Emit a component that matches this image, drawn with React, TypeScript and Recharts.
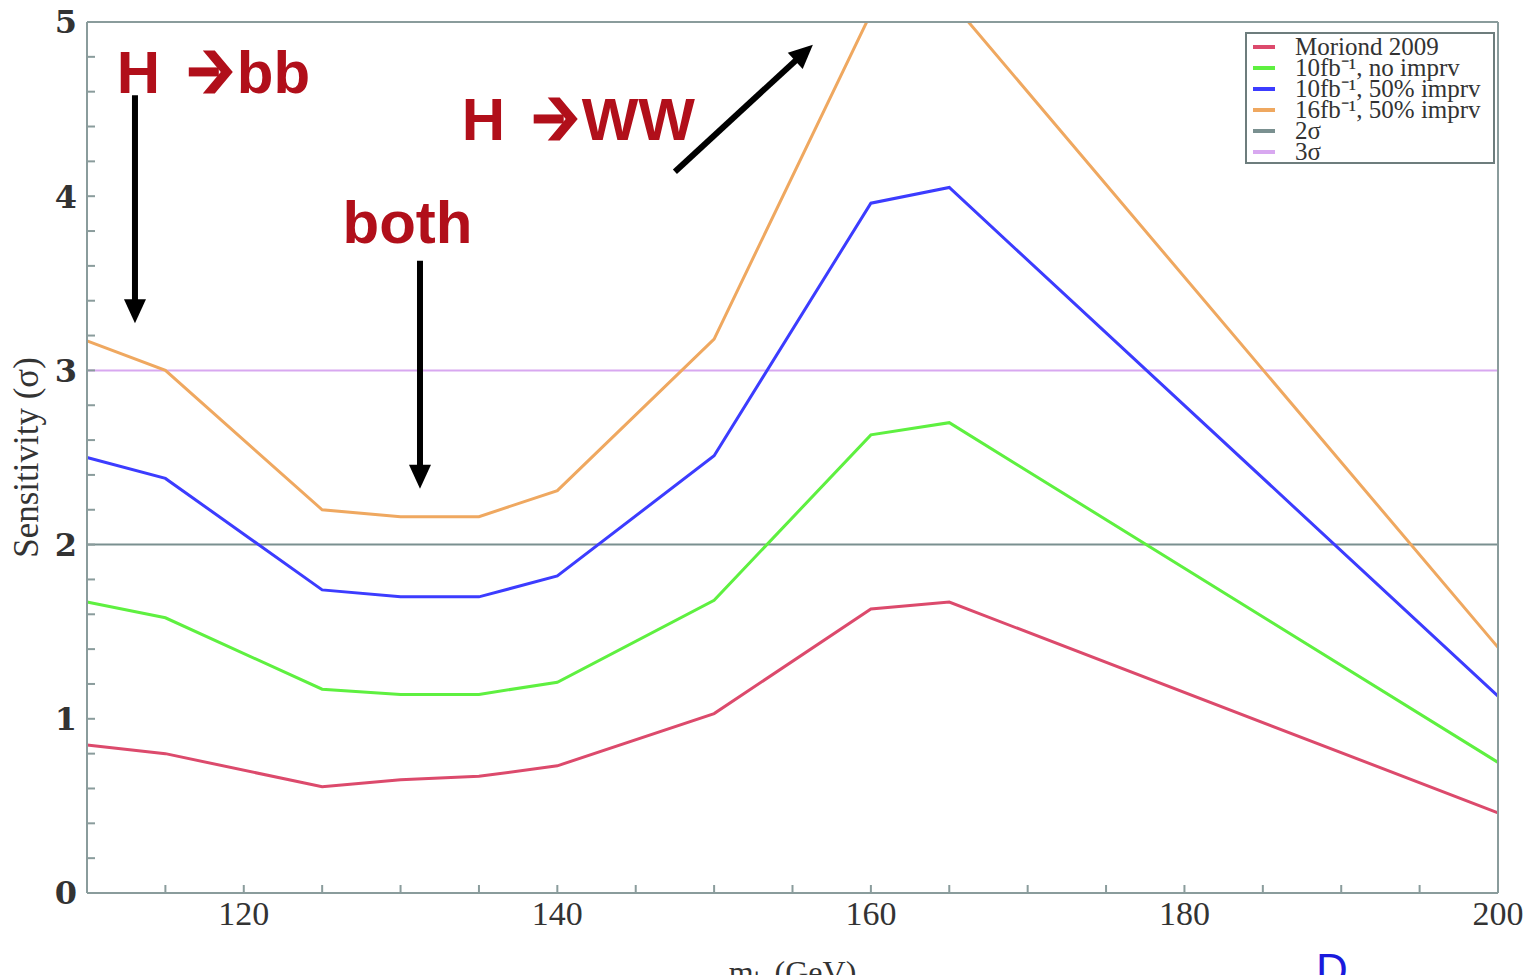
import { LineChart, Line, XAxis, YAxis, ReferenceLine, ReferenceDot } from "recharts"

const masses = [110, 115, 125, 130, 135, 140, 150, 160, 165, 200]
const moriond = [0.85, 0.8, 0.61, 0.65, 0.67, 0.73, 1.03, 1.63, 1.67, 0.46]
const noImprv = [1.67, 1.58, 1.17, 1.14, 1.14, 1.21, 1.68, 2.63, 2.7, 0.75]
const imprv10 = [2.5, 2.38, 1.74, 1.7, 1.7, 1.82, 2.51, 3.96, 4.05, 1.13]
const imprv16 = [3.17, 3.0, 2.2, 2.16, 2.16, 2.31, 3.18, 5.05, 5.13, 1.41]

const xTicks = [110, 115, 120, 125, 130, 135, 140, 145, 150, 155, 160, 165, 170, 175, 180, 185, 190, 195, 200]
const yTicks = Array.from({ length: 26 }, (_, i) => Math.round(i * 2) / 10)

const legendItems = [
  { label: "Moriond 2009", color: "#dc4a6c" },
  { label: "10fb\u207B\u00B9, no imprv", color: "#5ef040" },
  { label: "10fb\u207B\u00B9, 50% imprv", color: "#3c3cff" },
  { label: "16fb\u207B\u00B9, 50% imprv", color: "#efa860" },
  { label: "2\u03C3", color: "#7a9090" },
  { label: "3\u03C3", color: "#d8a8f0" },
]

const data = masses.map((m, i) => ({
  m,
  moriond: moriond[i],
  noImprv: noImprv[i],
  imprv10: imprv10[i],
  imprv16: imprv16[i],
}))

const frame = "#8a9c9c"
const annotRed = "#b10f1a"

function Arrow(props: any) {
  const { x1, y1, x2, y2 } = props
  const dx = x2 - x1
  const dy = y2 - y1
  const len = Math.sqrt(dx * dx + dy * dy)
  const ux = dx / len
  const uy = dy / len
  const head = 24
  const w = 11
  const bx = x2 - ux * head
  const by = y2 - uy * head
  const pts = `${x2},${y2} ${bx - uy * w},${by + ux * w} ${bx + uy * w},${by - ux * w}`
  return (
    <g>
      <line x1={x1} y1={y1} x2={bx + ux * 4} y2={by + uy * 4} stroke="#000" strokeWidth={6} />
      <polygon points={pts} fill="#000" />
    </g>
  )
}

// chevron-style arrow like the slide's wingdings glyph
function Chevron({ x, y }: { x: number; y: number }) {
  return (
    <g transform={`translate(${x},${y})`} fill={annotRed}>
      <rect x={0} y={-26} width={30} height={9} />
      <polygon points="14,-43 26,-43 44,-21.5 26,0 14,0 32,-21.5" />
    </g>
  )
}

function label(text: string, arrow: boolean) {
  return (p: any) => {
    const style = {
      fill: annotRed,
      fontFamily: "Liberation Sans, Arial, sans-serif",
      fontWeight: "bold" as const,
      fontSize: 60,
    }
    if (!arrow) {
      return (
        <text x={p.cx} y={p.cy} {...style}>
          {text}
        </text>
      )
    }
    return (
      <g>
        <text x={p.cx} y={p.cy} {...style}>
          H
        </text>
        <Chevron x={p.cx + 72} y={p.cy} />
        <text x={p.cx + 120} y={p.cy} {...style}>
          {text}
        </text>
      </g>
    )
  }
}

function CustomLegend() {
  return (
    <div
      style={{
        position: "absolute",
        left: 1245,
        top: 32,
        width: 250,
        height: 132,
        border: "2px solid #6d7d7d",
        background: "#fff",
        overflow: "hidden",
        boxSizing: "border-box",
        fontFamily: "Liberation Serif, Times New Roman, serif",
        fontSize: 25,
        lineHeight: "21px",
        paddingTop: 2,
        color: "#333",
      }}
    >
      {legendItems.map((it) => (
        <div key={it.label} style={{ display: "flex", alignItems: "center", whiteSpace: "nowrap" }}>
          <span style={{ display: "inline-block", width: 22, height: 4, background: it.color, margin: "0 20px 0 6px" }} />
          <span>{it.label}</span>
        </div>
      ))}
    </div>
  )
}

export default function App() {
  return (
    <div style={{ position: "absolute", left: 0, top: 0, width: 1532, height: 975, overflow: "hidden", background: "#fff" }}>
      <LineChart width={1532} height={975} data={data} margin={{ top: 0, right: 0, bottom: 0, left: 0 }}>
        <XAxis
          dataKey="m"
          type="number"
          domain={[110, 200]}
          ticks={xTicks}
          interval={0}
          height={82}
          stroke={frame}
          strokeWidth={2}
          tickSize={-8}
          tickMargin={16}
          tickFormatter={(v: number) => (v % 20 === 0 ? String(v) : "")}
          tick={{ fill: "#333", fontSize: 34, fontFamily: "Liberation Serif, serif" }}
          label={{ value: "m\u2095 (GeV)", position: "insideBottom", offset: -8, fill: "#333", fontSize: 32, fontFamily: "Liberation Serif, serif" }}
        />
        <XAxis
          xAxisId="top"
          dataKey="m"
          type="number"
          orientation="top"
          domain={[110, 200]}
          ticks={xTicks}
          interval={0}
          height={22}
          stroke={frame}
          strokeWidth={2}
          tickSize={-8}
          tick={false}
        />
        <YAxis
          type="number"
          domain={[0, 5]}
          allowDataOverflow
          ticks={yTicks}
          interval={0}
          width={87}
          stroke={frame}
          strokeWidth={2}
          tickSize={-8}
          tickMargin={18}
          tickFormatter={(v: number) => (Number.isInteger(v) ? String(v) : "")}
          tick={{ fill: "#333", fontSize: 32, fontFamily: "DejaVu Serif, serif", fontWeight: "bold" }}
          label={{
            value: "Sensitivity (\u03C3)",
            angle: -90,
            position: "insideLeft",
            offset: 26,
            textAnchor: "middle",
            fill: "#333",
            fontSize: 35,
            fontFamily: "Liberation Serif, serif",
          }}
        />
        <YAxis
          yAxisId="right"
          orientation="right"
          type="number"
          domain={[0, 5]}
          ticks={yTicks}
          interval={0}
          width={34}
          stroke={frame}
          strokeWidth={2}
          tickSize={-8}
          tick={false}
        />
        <ReferenceLine y={2} stroke="#7a9090" strokeWidth={2} />
        <ReferenceLine y={3} stroke="#d8a8f0" strokeWidth={2} />
        <Line dataKey="moriond" stroke="#dc4a6c" strokeWidth={3} dot={false} isAnimationActive={false} />
        <Line dataKey="noImprv" stroke="#5ef040" strokeWidth={3} dot={false} isAnimationActive={false} />
        <Line dataKey="imprv10" stroke="#3c3cff" strokeWidth={3} dot={false} isAnimationActive={false} />
        <Line dataKey="imprv16" stroke="#efa860" strokeWidth={3} dot={false} isAnimationActive={false} />
        <ReferenceLine segment={[{ x: 113.06, y: 4.58 }, { x: 113.06, y: 3.27 }]} shape={Arrow} />
        <ReferenceLine segment={[{ x: 131.24, y: 3.63 }, { x: 131.24, y: 2.32 }]} shape={Arrow} />
        <ReferenceLine segment={[{ x: 147.5, y: 4.14 }, { x: 156.3, y: 4.87 }]} shape={Arrow} />
        <ReferenceDot x={111.9} y={4.59} r={1} shape={label("bb", true)} />
        <ReferenceDot x={126.3} y={3.73} r={1} shape={label("both", false)} />
        <ReferenceDot x={133.9} y={4.32} r={1} shape={label("WW", true)} />
      </LineChart>
      <CustomLegend />
      <div
        style={{
          position: "absolute",
          left: 1316,
          top: 945,
          color: "#1a1adc",
          fontFamily: "Liberation Sans, sans-serif",
          fontSize: 44,
        }}
      >
        D
      </div>
    </div>
  )
}
